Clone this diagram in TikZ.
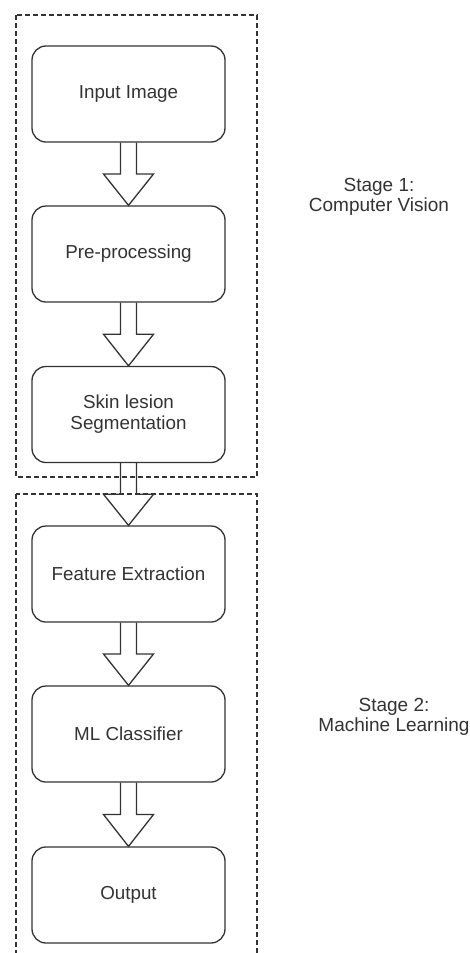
\documentclass[tikz,border=0pt]{standalone}
\usepackage{fontspec}
\setmainfont{Liberation Sans}
\usetikzlibrary{calc}

\definecolor{inkgray}{HTML}{333333}

% Block arrow from the bottom of one box to the top of the next
\newcommand{\blockarrow}[2]{%
  \draw[flowarrow] ($(#1.south)+(-4pt,0)$) -- ($(#1.south)!0.5!(#2.north)+(-4pt,0)$)
    -- ($(#1.south)!0.5!(#2.north)+(-12.5pt,0)$) -- (#2.north)
    -- ($(#1.south)!0.5!(#2.north)+(12.5pt,0)$) -- ($(#1.south)!0.5!(#2.north)+(4pt,0)$)
    -- ($(#1.south)+(4pt,0)$);
}

\begin{document}
\begin{tikzpicture}[x=0.5pt,y=-0.5pt,
  stepbox/.style={draw=inkgray, line width=0.65pt, rounded corners=7pt,
    minimum width=96.5pt, minimum height=48pt, align=center,
    text=inkgray, font=\fontsize{9.4}{10.6}\selectfont},
  flowarrow/.style={draw=inkgray, line width=0.65pt, line join=miter},
  stagebox/.style={draw=inkgray, line width=0.55pt, dash pattern=on 2.5pt off 1.5pt},
  stagelabel/.style={align=center, text=inkgray, font=\fontsize{9.5}{10}\selectfont}]

% Fix the page size
\useasboundingbox (0,0) rectangle (470,953);
\fill[white] (0,0) rectangle (470,953);

% Steps of the pipeline
\node[stepbox] (input) at (128.5,94) {Input Image};
\node[stepbox] (prep) at (128.5,254) {Pre-processing};
\node[stepbox] (seg) at (128.5,414.5) {Skin lesion\\Segmentation};
\node[stepbox] (feat) at (128.5,574) {Feature Extraction};
\node[stepbox] (clf) at (128.5,734) {ML Classifier};
\node[stepbox] (out) at (128.5,895) {Output};

% Arrows between the steps
\blockarrow{input}{prep}
\blockarrow{prep}{seg}
\blockarrow{seg}{feat}
\blockarrow{feat}{clf}
\blockarrow{clf}{out}

% Dashed stage frames
\draw[stagebox] (16,15) rectangle (257,477);
\draw[stagebox] (16,494) rectangle (257,975);

% Stage labels
\node[stagelabel] (stage1) at (379,197) {Stage 1:\\Computer Vision};
\node[stagelabel] (stage2) at (394,717) {Stage 2:\\Machine Learning};

\end{tikzpicture}
\end{document}
